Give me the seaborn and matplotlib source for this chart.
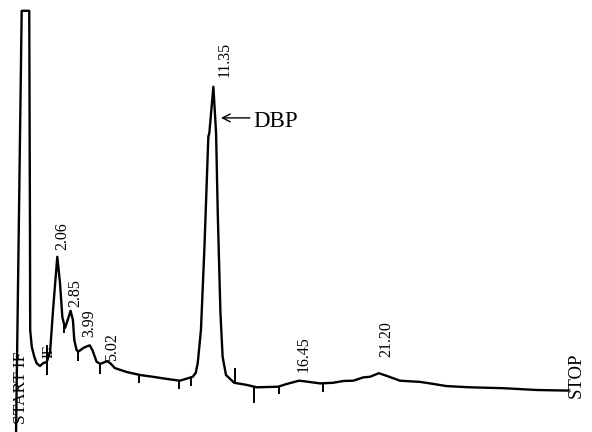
import matplotlib
matplotlib.use("Agg")
import matplotlib.pyplot as plt
import numpy as np
import seaborn as sns

# chromatogram trace: retention time (min) vs detector signal (a.u.)
time = [-0.40, -0.06, 0.39, 0.435, 0.446, 0.54, 0.69, 0.83, 1.03, 1.23, 1.43, 1.63, 1.82,
        2.06, 2.22, 2.36, 2.52, 2.62, 2.85, 2.99, 3.07, 3.21, 3.31, 3.61, 3.80, 3.99,
        4.15, 4.40, 4.62, 5.02, 5.20, 5.49, 6.19, 6.98, 7.76, 8.57, 9.36, 10.12,
        10.30, 10.42, 10.61, 10.82, 11.05, 11.11, 11.35, 11.51, 11.61, 11.77, 11.90,
        12.10, 12.59, 13.33, 13.93, 15.21, 15.71, 16.45, 16.90, 17.70, 18.47, 19.08,
        19.68, 20.27, 20.67, 21.20, 21.67, 22.46, 23.65, 24.24, 25.24, 26.62, 28.61,
        30.60, 32.48]
signal = [-16.0, 126.4, 126.4, 50.0, 20.0, 14.4, 11.1, 8.9, 8.0, 9.0, 9.3, 12.7, 27.7,
          44.4, 35.7, 24.3, 20.7, 22.3, 26.4, 23.3, 16.7, 13.3, 12.8, 14.0, 14.5, 14.9,
          13.3, 9.4, 8.7, 9.6, 9.0, 7.3, 6.0, 5.0, 4.4, 3.7, 3.1, 4.4,
          5.7, 9.0, 20.0, 47.8, 84.4, 85.7, 101.1, 85.7, 59.0, 25.7, 11.1,
          5.0, 2.4, 1.7, 0.9, 1.1, 2.0, 3.1, 2.8, 2.2, 2.4, 3.0,
          3.1, 4.2, 4.4, 5.6, 4.7, 3.1, 2.7, 2.2, 1.3, 0.9, 0.6,
          0.0, -0.2]

# labelled peaks (retention times)
peak_times = [2.06, 2.85, 3.99, 5.02, 11.35, 16.45, 21.20]
peak_labels = ["2.06", "2.85", "3.99", "5.02", "11.35", "16.45", "21.20"]

# integration event marks on the trace (time, signed length in signal units)
tick_times = [2.46, 3.27, 4.60, 6.95, 9.33, 10.00, 12.64, 13.79, 15.27, 17.89]
tick_lens = [-3.0, -3.3, -3.3, -2.7, -2.7, -2.7, 5.0, -5.3, -2.7, -3.0]
if_time = 1.43

# label offsets in points (layout only)
label_offsets = [(3.4, 4.9), (3.2, 2.9), (0, 5.8), (3.4, 0), (8.3, 7.2), (3.2, 6.3), (5.1, 11.5)]

sns.set_theme(style="white")
plt.rcParams["font.family"] = ["Liberation Serif", "DejaVu Serif"]
plt.rcParams["text.color"] = "black"

fig = plt.figure(figsize=(5.92, 4.32), dpi=100)
ax = fig.add_axes([0, 0, 1, 1])

sns.lineplot(x=time, y=signal, sort=False, estimator=None, color="black",
             linewidth=1.7, ax=ax)
for line in ax.lines:
    line.set_solid_joinstyle("round")

# event ticks
base = np.interp(tick_times, time, signal)
ax.vlines(tick_times, base, base + np.array(tick_lens), color="black", linewidth=1.4)
ax.vlines([if_time], 5.0, 15.0, color="black", linewidth=1.4)
ax.text(if_time + 0.12, 12.7, "IF", rotation=90, ha="center", va="center", fontsize=10.5)

# peak retention time labels
apex = np.interp(peak_times, time, signal)
for t, s, lab, off in zip(peak_times, apex, peak_labels, label_offsets):
    ax.annotate(lab, xy=(t, s), xytext=off, textcoords="offset points",
                rotation=90, ha="center", va="bottom", fontsize=11.5)

# DBP arrow
ax.annotate("", xy=(11.80, 90.7), xytext=(13.52, 90.7),
            arrowprops=dict(arrowstyle="->", color="black", lw=1.0,
                            shrinkA=0, shrinkB=0, mutation_scale=14))
ax.text(13.72, 87.8, "DBP", ha="left", va="baseline", fontsize=16.5)

ax.text(-0.13, 12.7, "START IF", rotation=90, ha="center", va="top", fontsize=12.5)
ax.text(32.93, -2.7, "STOP", rotation=90, ha="center", va="bottom", fontsize=13.5)

ax.set_xlim(-1.351, 33.887)
ax.set_ylim(-14, 130)
ax.axis("off")

fig.savefig("out.png", dpi=100)
plt.close(fig)
